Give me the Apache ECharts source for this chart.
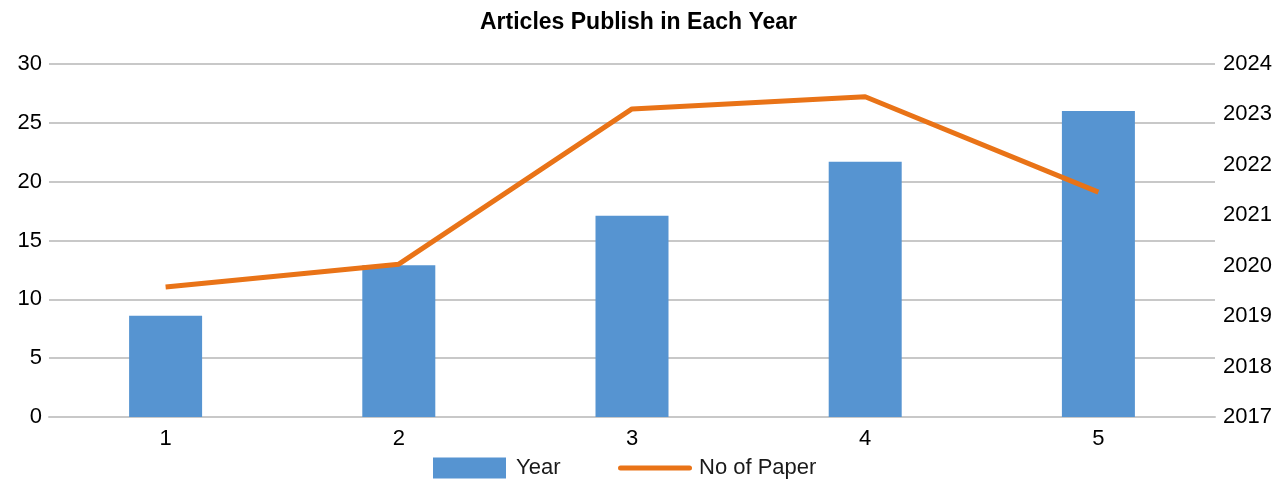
<!DOCTYPE html>
<html>
<head>
<meta charset="utf-8">
<script src="https://cdn.jsdelivr.net/npm/echarts@6/dist/echarts.min.js"></script>
<style>
  html, body { margin: 0; padding: 0; background: #fff; }
  #chart { width: 1277px; height: 482px; }
</style>
</head>
<body>
<div id="chart"></div>
<script>
// 数据
const categories = ['1', '2', '3', '4', '5'];
const yearValues = [8.6, 12.9, 17.1, 21.7, 26.0];
const paperValues = [2019.58, 2020.03, 2023.11, 2023.35, 2021.46];

const chart = echarts.init(document.getElementById('chart'));
const font = '"Liberation Sans", Arial, sans-serif';
const gridColor = '#c8c8c8';

const option = {
  backgroundColor: '#fff',
  animation: false,
  title: {
    text: 'Articles Publish in Each Year',
    left: 'center',
    top: 6,
    textStyle: { fontFamily: font, fontSize: 23, fontWeight: 'bold', color: '#000' }
  },
  legend: [
    {
      data: ['Year'],
      left: 433,
      top: 457,
      padding: 0,
      itemWidth: 73,
      itemHeight: 21,
      itemGap: 0,
      icon: 'rect',
      textStyle: { fontFamily: font, fontSize: 22, color: '#1a1a1a', padding: [0, 0, 0, 5] }
    },
    {
      data: ['No of Paper'],
      left: 618,
      top: 457,
      padding: 0,
      itemWidth: 74,
      itemHeight: 5,
      icon: 'path://M2.5,0 L71.5,0 A2.5,2.5 0 0 1 71.5,5 L2.5,5 A2.5,2.5 0 0 1 2.5,0 Z',
      textStyle: { fontFamily: font, fontSize: 22, color: '#1a1a1a', padding: [0, 0, 0, 2] }
    }
  ],
  grid: { left: 49, right: 62, top: 64, bottom: 65, outerBoundsMode: 'none' },
  xAxis: {
    type: 'category',
    data: categories,
    axisLine: { show: true, lineStyle: { color: gridColor, width: 2 } },
    axisTick: { show: false },
    axisLabel: { fontFamily: font, fontSize: 22, color: '#000', margin: 11 }
  },
  yAxis: [
    {
      type: 'value',
      min: 0,
      max: 30,
      interval: 5,
      axisLine: { show: false },
      axisTick: { show: false },
      splitLine: { lineStyle: { color: gridColor, width: 2 } },
      axisLabel: { fontFamily: font, fontSize: 22, color: '#000', margin: 7 }
    },
    {
      type: 'value',
      min: 2017,
      max: 2024,
      interval: 1,
      axisLine: { show: false },
      axisTick: { show: false },
      splitLine: { show: false },
      axisLabel: { fontFamily: font, fontSize: 22, color: '#000', margin: 8, formatter: (v) => String(v) }
    }
  ],
  series: [
    {
      name: 'Year',
      type: 'bar',
      data: yearValues,
      barWidth: 73,
      itemStyle: { color: '#5694d1' }
    },
    {
      name: 'No of Paper',
      type: 'line',
      yAxisIndex: 1,
      data: paperValues,
      symbol: 'none',
      lineStyle: { color: '#e97317', width: 5 },
      itemStyle: { color: '#e97317' }
    }
  ]
};

chart.setOption(option);
</script>
</body>
</html>
